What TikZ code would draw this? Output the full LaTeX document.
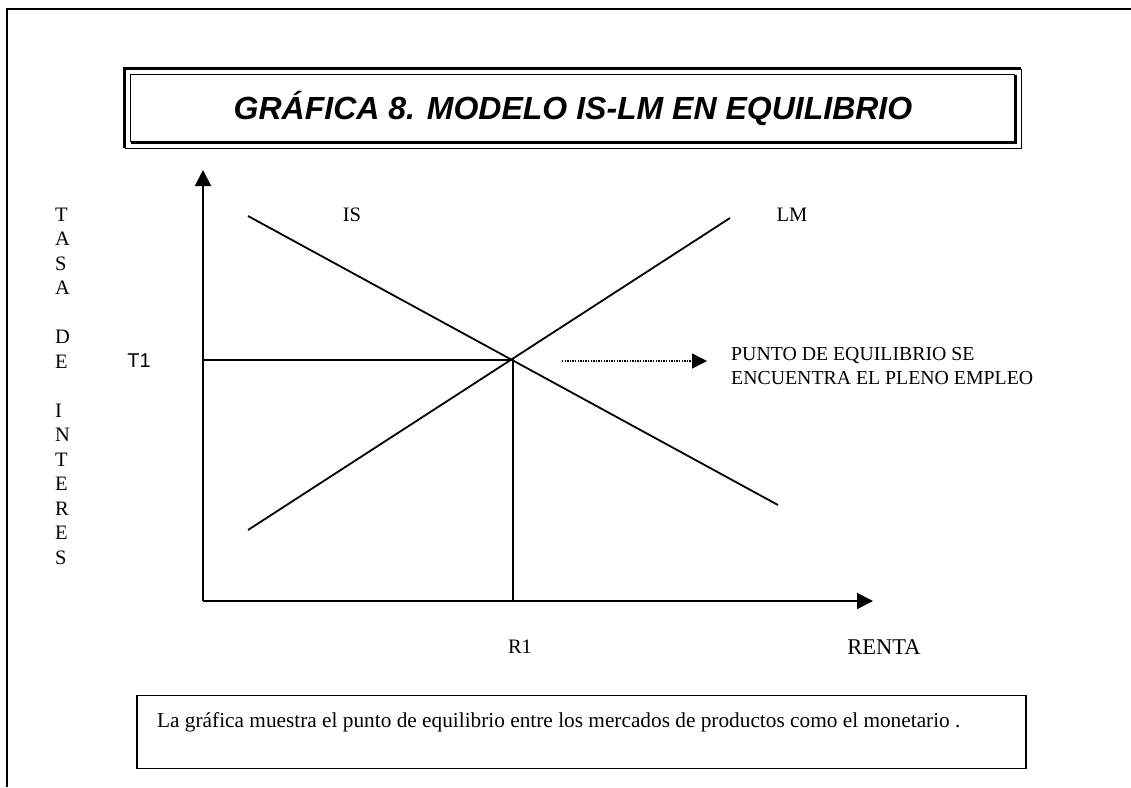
\documentclass[tikz,border=0pt]{standalone}
\usepackage{fontspec}
\setmainfont{Liberation Serif}
\newfontfamily\arialfont{Liberation Sans}
\usetikzlibrary{arrows.meta}

\tikzset{
    txt/.style={inner sep=0pt, font=\fontsize{20.5}{24.5}\selectfont},
    axis/.style={line width=1.9pt, -{Triangle[length=16pt,width=16pt]}},
    curve/.style={line width=1.8pt},
}

\begin{document}
\begin{tikzpicture}[x=1pt, y=-1pt]
        \useasboundingbox (0,0) rectangle (1131,787);
        \draw[line width=1.8pt] (7,787) -- (7,9) -- (1131,9);

        \node[minimum width=896pt, minimum height=79pt, inner sep=0pt,
              font=\arialfont\bfseries\itshape\fontsize{32}{38}\selectfont] (title) at (573,108.5) {GRÁFICA 8. MODELO IS-LM EN EQUILIBRIO};
        \draw[line width=3pt] (title.south west) -- (title.north west) -- (title.north east);
        \draw[line width=1pt] (title.south west) -- (title.south east) -- (title.north east);
        \draw[line width=1pt] ([shift={(6,-6)}]title.south west) -- ([shift={(6,6)}]title.north west) -- ([shift={(-6,6)}]title.north east);
        \draw[line width=3pt] ([shift={(6,-6)}]title.south west) -- ([shift={(-6,-6)}]title.south east) -- ([shift={(-6,6)}]title.north east);

        \coordinate (O) at (203,601);
        \coordinate (ytip) at (203,170);
        \coordinate (xtip) at (873,601);
        \coordinate (E) at (513,360);
        \coordinate (IS1) at (248,216);
        \coordinate (IS2) at (778,505);
        \coordinate (LM1) at (248,530);
        \coordinate (LM2) at (730,218);
        \coordinate (T1p) at (O |- E);
        \coordinate (R1p) at (E |- O);
        \coordinate (d0) at (562,361);
        \coordinate (d1) at (707,361);

        \draw[axis] (O) -- (ytip);
        \draw[axis] (O) -- (xtip);
        \draw[curve] (IS1) -- (IS2);
        \draw[curve] (LM1) -- (LM2);
        \draw[curve] (T1p) -- (E) -- (R1p);
        \draw[line width=1.4pt, dash pattern=on 1.3pt off 1.3pt, -{Triangle[length=15pt,width=15pt]}] (d0) -- (d1);

        \node[txt] (is) at (352,215) {IS};
        \node[txt] (lm) at (792,215) {LM};
        \node[txt, font=\arialfont\fontsize{20}{24}\selectfont] (t1) at (139,361) {T1};
        \node[txt] (r1) at (520,647) {R1};
        \node[txt, font=\fontsize{22.5}{27}\selectfont] (renta) at (884,647) {RENTA};
        \node[txt, align=left, anchor=west] (tasa) at (55,386) {T\\A\\S\\A\\~\\D\\E\\~\\I\\N\\T\\E\\R\\E\\S};
        \node[txt, font=\fontsize{19.8}{24.5}\selectfont, align=left, anchor=north west] (punto) at (731,347) {PUNTO DE EQUILIBRIO SE\\ENCUENTRA EL PLENO EMPLEO};

        \node[draw, line width=1.5pt, minimum width=889pt, minimum height=73pt] (notebox) at (581.5,732) {};
        \node[txt, font=\fontsize{21.3}{25}\selectfont, anchor=west] (note) at (157,722) {La gráfica muestra el punto de equilibrio entre los mercados de productos como el monetario .};
    \end{tikzpicture}
\end{document}
